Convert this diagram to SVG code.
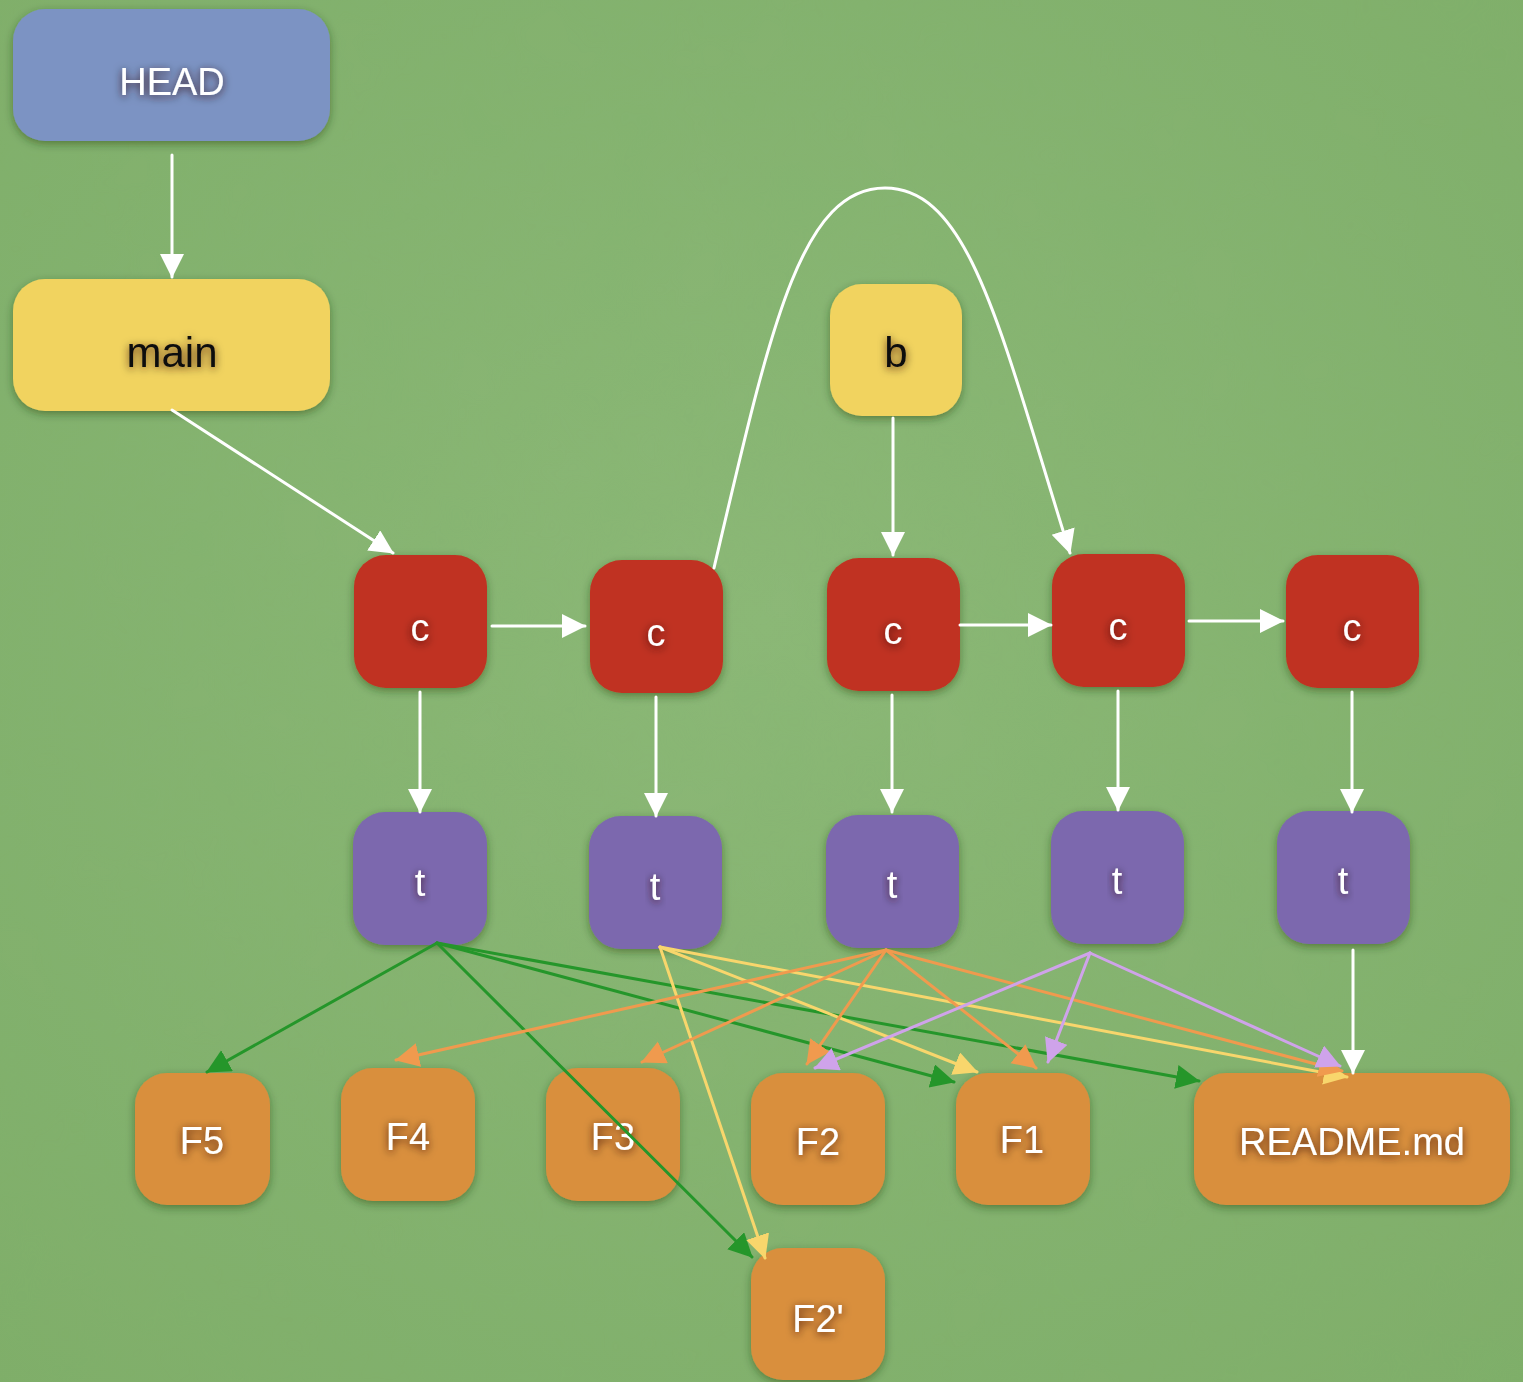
<svg xmlns="http://www.w3.org/2000/svg" width="1523" height="1382" viewBox="0 0 1523 1382">
<defs>
<style>
.node{stroke:none;filter:url(#nshadow)}
.head{fill:#7b93c3}
.ref{fill:#f1d35f}
.commit{fill:#c03320}
.tree{fill:#7c68ae}
.file{fill:#d98f3c}
.lbl{font-family:"Liberation Sans","DejaVu Sans",sans-serif;font-size:38px;fill:#ffffff;text-anchor:middle;dominant-baseline:central;filter:url(#tglow)}
.dark{fill:#111111;font-size:42px}
.e{fill:none;stroke-width:3;stroke-linecap:round}
.w{stroke:#ffffff;marker-end:url(#aw)}
.g{stroke:#25962a;marker-end:url(#ag)}
.y{stroke:#f8d66c;marker-end:url(#ay)}
.o{stroke:#f09a4e;marker-end:url(#ao)}
.p{stroke:#cfa3ea;marker-end:url(#ap)}
</style>
<filter id="nshadow" x="-20%" y="-20%" width="140%" height="140%">
<feGaussianBlur in="SourceAlpha" stdDeviation="4"/>
<feOffset dx="0" dy="3" result="b"/>
<feFlood flood-color="#1e3a10" flood-opacity="0.45"/>
<feComposite in2="b" operator="in"/>
<feMerge><feMergeNode/><feMergeNode in="SourceGraphic"/></feMerge>
</filter>
<filter id="tglow" x="-40%" y="-40%" width="180%" height="180%">
<feGaussianBlur in="SourceAlpha" stdDeviation="4"/>
<feOffset dx="0" dy="2" result="b"/>
<feFlood flood-color="#2a1000" flood-opacity="0.8"/>
<feComposite in2="b" operator="in"/>
<feMerge><feMergeNode/><feMergeNode in="SourceGraphic"/></feMerge>
</filter>
<filter id="noise" x="0" y="0" width="100%" height="100%">
<feTurbulence type="fractalNoise" baseFrequency="0.012" numOctaves="3" seed="4"/>
<feColorMatrix type="matrix" values="0 0 0 0 0.2  0 0 0 0 0.45  0 0 0 0 0.15  0 0 0 0.5 -0.12"/>
</filter>
<radialGradient id="bg" cx="50%" cy="45%" r="75%">
<stop offset="0" stop-color="#8cb877"/>
<stop offset="1" stop-color="#7fae69"/>
</radialGradient>
<marker id="aw" markerUnits="userSpaceOnUse" markerWidth="26" markerHeight="26" refX="23" refY="12" orient="auto"><path d="M0,0 L24,12 L0,24 Z" fill="#ffffff"/></marker>
<marker id="ag" markerUnits="userSpaceOnUse" markerWidth="26" markerHeight="26" refX="23" refY="12" orient="auto"><path d="M0,0 L24,12 L0,24 Z" fill="#25962a"/></marker>
<marker id="ay" markerUnits="userSpaceOnUse" markerWidth="26" markerHeight="26" refX="23" refY="12" orient="auto"><path d="M0,0 L24,12 L0,24 Z" fill="#f8d66c"/></marker>
<marker id="ao" markerUnits="userSpaceOnUse" markerWidth="26" markerHeight="26" refX="23" refY="12" orient="auto"><path d="M0,0 L24,12 L0,24 Z" fill="#f09a4e"/></marker>
<marker id="ap" markerUnits="userSpaceOnUse" markerWidth="26" markerHeight="26" refX="23" refY="12" orient="auto"><path d="M0,0 L24,12 L0,24 Z" fill="#cfa3ea"/></marker>
</defs>

<rect x="0" y="0" width="1523" height="1382" fill="url(#bg)"/>
<rect x="0" y="0" width="1523" height="1382" filter="url(#noise)" opacity="0.5"/>

<g id="nodes">
<g id="HEAD"><rect class="node head" x="13" y="9" width="317" height="132" rx="32"/><text class="lbl" x="172" y="82">HEAD</text></g>
<g id="main"><rect class="node ref" x="13" y="279" width="317" height="132" rx="32"/><text class="lbl dark" x="172" y="352">main</text></g>
<g id="b"><rect class="node ref" x="830" y="284" width="132" height="132" rx="32"/><text class="lbl dark" x="896" y="352">b</text></g>

<g id="c1"><rect class="node commit" x="354" y="555" width="133" height="133" rx="32"/><text class="lbl" x="420" y="628">c</text></g>
<g id="c2"><rect class="node commit" x="590" y="560" width="133" height="133" rx="32"/><text class="lbl" x="656" y="633">c</text></g>
<g id="c3"><rect class="node commit" x="827" y="558" width="133" height="133" rx="32"/><text class="lbl" x="893" y="631">c</text></g>
<g id="c4"><rect class="node commit" x="1052" y="554" width="133" height="133" rx="32"/><text class="lbl" x="1118" y="627">c</text></g>
<g id="c5"><rect class="node commit" x="1286" y="555" width="133" height="133" rx="32"/><text class="lbl" x="1352" y="628">c</text></g>

<g id="t1"><rect class="node tree" x="353" y="812" width="134" height="133" rx="32"/><text class="lbl" x="420" y="883">t</text></g>
<g id="t2"><rect class="node tree" x="589" y="816" width="133" height="133" rx="32"/><text class="lbl" x="655" y="887">t</text></g>
<g id="t3"><rect class="node tree" x="826" y="815" width="133" height="133" rx="32"/><text class="lbl" x="892" y="885">t</text></g>
<g id="t4"><rect class="node tree" x="1051" y="811" width="133" height="133" rx="32"/><text class="lbl" x="1117" y="881">t</text></g>
<g id="t5"><rect class="node tree" x="1277" y="811" width="133" height="133" rx="32"/><text class="lbl" x="1343" y="881">t</text></g>

<g id="F5"><rect class="node file" x="135" y="1073" width="135" height="132" rx="32"/><text class="lbl" x="202" y="1141">F5</text></g>
<g id="F4"><rect class="node file" x="341" y="1068" width="134" height="133" rx="32"/><text class="lbl" x="408" y="1137">F4</text></g>
<g id="F3"><rect class="node file" x="546" y="1068" width="134" height="133" rx="32"/><text class="lbl" x="613" y="1137">F3</text></g>
<g id="F2"><rect class="node file" x="751" y="1073" width="134" height="132" rx="32"/><text class="lbl" x="818" y="1142">F2</text></g>
<g id="F1"><rect class="node file" x="956" y="1073" width="134" height="132" rx="32"/><text class="lbl" x="1022" y="1140">F1</text></g>
<g id="README"><rect class="node file" x="1194" y="1073" width="316" height="132" rx="32"/><text class="lbl" x="1352" y="1142">README.md</text></g>
<g id="F2p"><rect class="node file" x="751" y="1248" width="134" height="132" rx="32"/><text class="lbl" x="818" y="1319">F2'</text></g>
</g>

<g id="connectors">
<path class="e w" d="M172,155 L172,277"/>
<path class="e w" d="M172,410 L393,553"/>
<path class="e w" d="M492,626 L585,626"/>
<path class="e w" d="M960,625 L1051,625"/>
<path class="e w" d="M1189,621 L1283,621"/>
<path class="e w" d="M893,418 L893,555"/>
<path class="e w" d="M714,568 C770,330 800,188 885,188 C970,188 1000,330 1070,553"/>
<path class="e w" d="M420,692 L420,812"/>
<path class="e w" d="M656,697 L656,816"/>
<path class="e w" d="M892,695 L892,812"/>
<path class="e w" d="M1118,691 L1118,810"/>
<path class="e w" d="M1352,692 L1352,812"/>
<path class="e w" d="M1353,950 L1353,1073"/>

<path class="e g" d="M437,943 L207,1072"/>
<path class="e g" d="M437,943 L752,1257"/>
<path class="e g" d="M437,943 L954,1082"/>
<path class="e g" d="M437,943 L1199,1081"/>

<path class="e y" d="M660,947 L765,1258"/>
<path class="e y" d="M660,947 L977,1072"/>
<path class="e y" d="M660,947 L1347,1077"/>

<path class="e o" d="M886,950 L396,1060"/>
<path class="e o" d="M886,950 L642,1062"/>
<path class="e o" d="M886,950 L807,1064"/>
<path class="e o" d="M886,950 L1036,1068"/>
<path class="e o" d="M886,950 L1342,1071"/>

<path class="e p" d="M1090,953 L815,1068"/>
<path class="e p" d="M1090,953 L1048,1062"/>
<path class="e p" d="M1090,953 L1340,1066"/>
</g>
</svg>
